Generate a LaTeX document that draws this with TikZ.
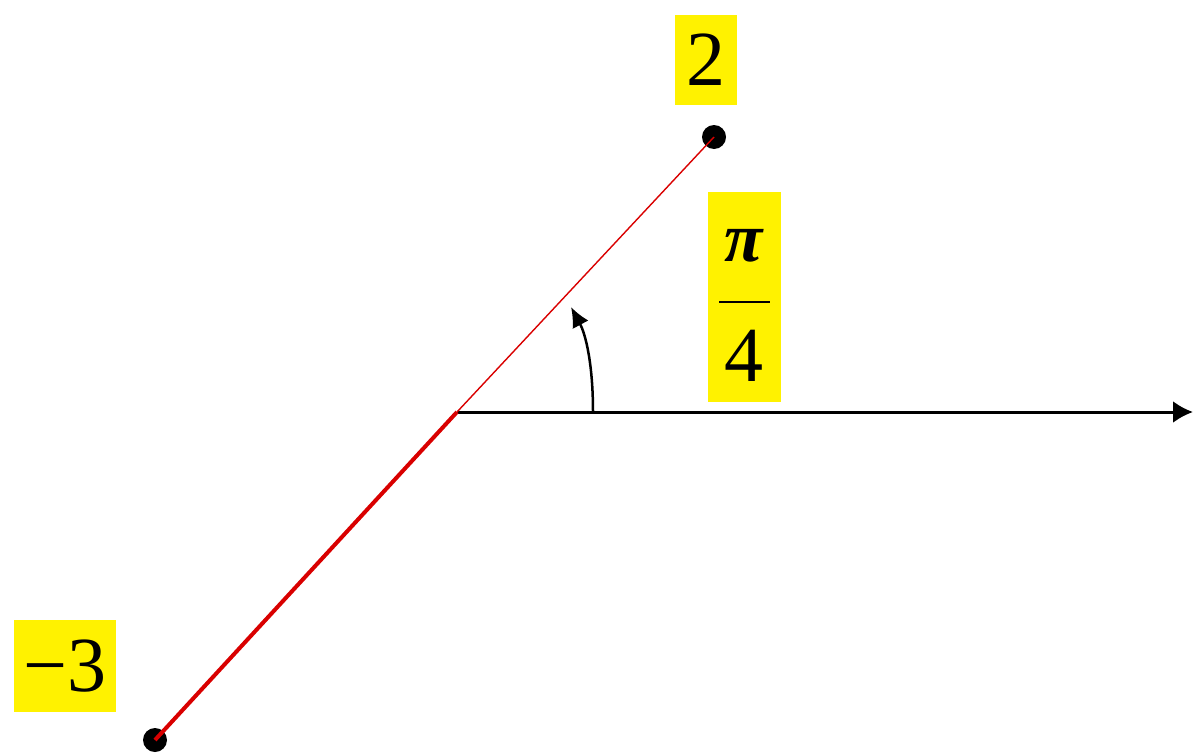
\documentclass[tikz,border=0pt]{standalone}
\usepackage{fontspec}
\setmainfont{Liberation Serif}
\usetikzlibrary{arrows.meta}
\begin{document}
\begin{tikzpicture}[x=1pt,y=-1pt,
  lab/.style={fill=yellow, inner sep=0pt, font=\fontsize{78}{78}\selectfont},
  dot/.style={circle, fill=black, inner sep=0pt, minimum size=24pt},
  axis/.style={line width=3pt, -{Latex[length=20pt,width=22pt]}},
  ray/.style={red!85!black}
]
\useasboundingbox (0,0) rectangle (1194,755);
\coordinate (O) at (457,412);
\coordinate (X) at (1193,412);
\node[dot] (P) at (714,137) {};
\node[dot] (Q) at (155,740) {};
\draw[axis] (O) -- (X);
\draw[ray, line width=1.4pt] (O) -- (P.center);
\draw[ray, line width=4pt] (O) -- (Q.center);
\coordinate (A0) at (593,412);
\coordinate (A1) at (571,307);
\draw[line width=2.5pt, -{Latex[length=20pt,width=18pt]}] (A0) .. controls (593,365) and (586,335) .. (A1);
\node[lab, minimum width=62pt, minimum height=90pt] (two) at (706,60) {2};
\node[lab, minimum width=102pt, minimum height=92pt] (m3) at (65,666) {−3};
\node[fill=yellow, inner sep=0pt, minimum width=73pt, minimum height=210pt] (fr) at (744.5,297) {};
\node[inner sep=0pt, font=\fontsize{70}{70}\selectfont\bfseries\itshape] (pi) at (744,246) {π};
\node[inner sep=0pt, font=\fontsize{78}{78}\selectfont] (four) at (744,356) {4};
\coordinate (b1) at (719,302);
\coordinate (b2) at (770,302);
\draw[line width=2pt] (b1) -- (b2);
\end{tikzpicture}
\end{document}
